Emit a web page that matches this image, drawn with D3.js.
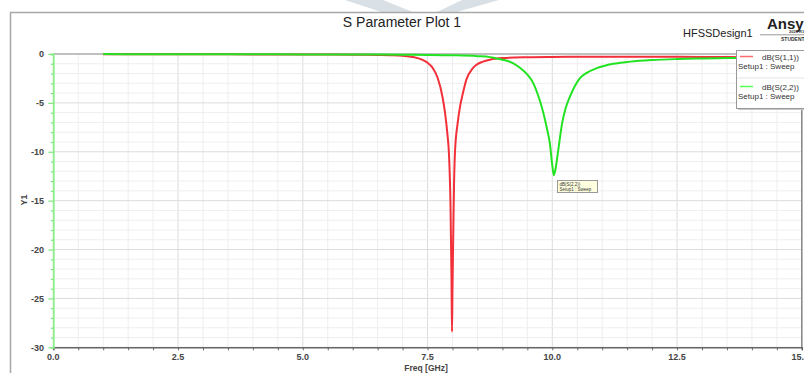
<!DOCTYPE html>
<html>
<head>
<meta charset="utf-8">
<script src="https://cdn.jsdelivr.net/npm/d3@7"></script>
<style>
  html, body { margin: 0; padding: 0; background: #fff; overflow: hidden; }
  svg { display: block; font-family: "Liberation Sans", Arial, sans-serif; }
</style>
</head>
<body>
<svg id="chart" width="804" height="373"></svg>
<script>
// ---- Data ----
const title = "S Parameter Plot 1";
const designName = "HFSSDesign1";
const xTicks = [0.0, 2.5, 5.0, 7.5, 10.0, 12.5, 15.0];
const xTickLabels = ["0.0", "2.5", "5.0", "7.5", "10.0", "12.5", "15."];
const yTicks = [0, -5, -10, -15, -20, -25, -30];
const seriesNames = ["dB(S(1,1))", "dB(S(2,2))"];
const setupName = "Setup1 : Sweep";

const s11Freq = [1.0, 2.0, 3.0, 4.0, 5.0, 6.0, 6.5, 6.8, 7.0, 7.2, 7.4, 7.5, 7.6, 7.7, 7.8, 7.85, 7.9, 7.93, 7.96, 7.98, 7.99, 8.0, 8.015, 8.03, 8.05, 8.1, 8.15, 8.2, 8.28, 8.4, 8.48, 8.6, 8.75, 9.0, 9.5, 10.0, 11.0, 12.0, 13.0, 14.0, 15.0];
const s11dB   = [-0.03, -0.03, -0.03, -0.04, -0.05, -0.07, -0.09, -0.12, -0.18, -0.3, -0.6, -0.9, -1.4, -2.4, -4.4, -6.0, -8.3, -10.3, -15.5, -23, -28.4, -24, -18.5, -13.5, -10.0, -7.2, -5.4, -4.2, -2.6, -1.5, -1.1, -0.8, -0.58, -0.42, -0.33, -0.3, -0.28, -0.28, -0.3, -0.32, -0.33];

const s22Freq = [1.0, 2.0, 3.0, 4.0, 5.0, 6.0, 7.0, 7.5, 8.0, 8.5, 8.75, 8.88, 9.0, 9.2, 9.35, 9.5, 9.62, 9.72, 9.82, 9.9, 9.95, 10.0, 10.03, 10.07, 10.12, 10.2, 10.27, 10.35, 10.45, 10.55, 10.7, 10.89, 11.22, 11.56, 12.0, 12.5, 13.0, 13.5, 14.0, 14.5, 15.0];
const s22dB   = [-0.01, -0.02, -0.02, -0.03, -0.04, -0.05, -0.07, -0.09, -0.13, -0.22, -0.32, -0.45, -0.58, -0.9, -1.4, -2.1, -3.0, -4.3, -6.0, -7.8, -9.1, -11.4, -12.4, -11.6, -9.8, -7.0, -5.5, -4.4, -3.3, -2.5, -1.9, -1.45, -1.0, -0.78, -0.62, -0.52, -0.46, -0.42, -0.39, -0.37, -0.36];

// ---- Layout ----
const svg = d3.select("#chart");
const W = 804, H = 373;
const plot = { left: 53.3, right: 801.8, top: 54, bottom: 347.3 };

const x = d3.scaleLinear().domain([0, 15]).range([plot.left, plot.right]);
const y = d3.scaleLinear().domain([0, -30]).range([plot.top, plot.bottom]);

// watermark shapes at the very top
svg.append("polygon").attr("points", "345,0 383,0 414,12.5 383,12.5").attr("fill", "#d8e0e5");
svg.append("polygon").attr("points", "462,0 499,0 455,12.5 436,12.5").attr("fill", "#d8e0e5");

// outer frame
svg.append("line").attr("x1", 10).attr("x2", W).attr("y1", 12.5).attr("y2", 12.5).attr("stroke", "#a8a8a8").attr("stroke-width", 1.5);
svg.append("line").attr("x1", 10.5).attr("x2", 10.5).attr("y1", 12).attr("y2", H).attr("stroke", "#a8a8a8").attr("stroke-width", 1.5);

// title
svg.append("text").attr("x", 402).attr("y", 27).attr("text-anchor", "middle")
  .attr("font-size", 14).attr("fill", "#222").text(title);
svg.append("text").attr("x", 683).attr("y", 37).attr("font-size", 11).attr("fill", "#222").text(designName);

// Ansys logo (clipped by window, as in the reference)
svg.append("text").attr("x", 767).attr("y", 28.5).attr("font-size", 15).attr("font-weight", "bold").attr("fill", "#222").text("Ansys");
svg.append("text").attr("x", 789).attr("y", 33).attr("font-size", 4).attr("font-weight", "bold").attr("fill", "#333").text("2023 R1");
svg.append("line").attr("x1", 760).attr("x2", 804).attr("y1", 34.8).attr("y2", 34.8).attr("stroke", "#999").attr("stroke-width", 1);
svg.append("text").attr("x", 781).attr("y", 40.5).attr("font-size", 5).attr("font-weight", "bold").attr("fill", "#333").text("STUDENT");

// grid
const g = svg.append("g");
const minorX = d3.range(0, 15.001, 0.5);
const minorY = d3.range(0, -30.001, -1);
g.selectAll("line.gx").data(minorX).join("line")
  .attr("x1", d => x(d)).attr("x2", d => x(d)).attr("y1", plot.top).attr("y2", plot.bottom)
  .attr("stroke", d => (Math.abs(d % 2.5) < 1e-6 ? "#dcdcdc" : "#eeeeee")).attr("stroke-width", 1);
g.selectAll("line.gy").data(minorY).join("line")
  .attr("x1", plot.left).attr("x2", plot.right).attr("y1", d => y(d)).attr("y2", d => y(d))
  .attr("stroke", d => (Math.abs(d % 5) < 1e-6 ? "#dcdcdc" : "#eeeeee")).attr("stroke-width", 1);

// plot border (top & right)
svg.append("line").attr("x1", plot.left).attr("x2", plot.right).attr("y1", plot.top).attr("y2", plot.top).attr("stroke", "#b0b0b0").attr("stroke-width", 1.5);
svg.append("line").attr("x1", plot.right).attr("x2", plot.right).attr("y1", plot.top).attr("y2", plot.bottom).attr("stroke", "#888").attr("stroke-width", 1.5);

// x axis
const xAxis = d3.axisBottom(x).tickValues(minorX).tickSize(3).tickFormat("");
const xa = svg.append("g").attr("transform", `translate(0,${plot.bottom})`).call(xAxis);
xa.select(".domain").attr("stroke", "#666").attr("stroke-width", 1.5);
xa.selectAll(".tick line").attr("stroke", "#666");
svg.selectAll("text.xt").data(xTicks).join("text")
  .attr("x", (d, i) => (i === xTicks.length - 1 ? W : x(d)))
  .attr("y", 360)
  .attr("text-anchor", (d, i) => (i === xTicks.length - 1 ? "end" : "middle"))
  .attr("font-size", 9).attr("font-weight", "bold").attr("fill", "#444")
  .text((d, i) => xTickLabels[i]);
svg.append("text").attr("x", 426).attr("y", 371).attr("text-anchor", "middle")
  .attr("font-size", 8.5).attr("font-weight", "bold").attr("fill", "#444").text("Freq [GHz]");

// y axis (green, as in reference)
const yAxis = d3.axisLeft(y).tickValues(minorY).tickSize(2.5).tickFormat("");
const ya = svg.append("g").attr("transform", `translate(${plot.left},0)`).call(yAxis);
ya.select(".domain").attr("stroke", "#8cf08c").attr("stroke-width", 1.8);
ya.selectAll(".tick line").attr("stroke", "#7ee87e").attr("stroke-width", 1.2)
  .attr("x2", d => (d % 5 === 0 ? -5 : -2.5));
svg.selectAll("text.yt").data(yTicks).join("text")
  .attr("x", 44).attr("y", d => y(d) + 3.2).attr("text-anchor", "end")
  .attr("font-size", 9).attr("font-weight", "bold").attr("fill", "#444").text(d => d);
svg.append("text").attr("transform", "translate(27,200) rotate(-90)").attr("text-anchor", "middle")
  .attr("font-size", 9).attr("font-weight", "bold").attr("fill", "#444").text("Y1");

// curves
const line = d3.line().x(d => x(d[0])).y(d => y(d[1])).curve(d3.curveMonotoneX);
const s11 = s11Freq.map((f, i) => [f, s11dB[i]]);
const s22 = s22Freq.map((f, i) => [f, s22dB[i]]);
svg.append("path").datum(s11).attr("d", line).attr("fill", "none").attr("stroke", "#f2303a").attr("stroke-width", 2);
svg.append("path").datum(s22).attr("d", line).attr("fill", "none").attr("stroke", "#22e322").attr("stroke-width", 2);

// marker label
const mk = svg.append("g").attr("transform", "translate(557.5,180.5)");
mk.append("rect").attr("width", 40).attr("height", 12).attr("fill", "#ffffe0").attr("stroke", "#999").attr("stroke-width", 1);
mk.append("text").attr("x", 2).attr("y", 5).attr("font-size", 4.5).attr("fill", "#333").text(seriesNames[1]);
mk.append("text").attr("x", 2).attr("y", 10.5).attr("font-size", 4.5).attr("fill", "#333").text(setupName);

// legend
const lg = svg.append("g").attr("transform", "translate(736,50)");
lg.append("rect").attr("x", 2).attr("y", 2).attr("width", 72).attr("height", 58).attr("fill", "#c8c8c8");
lg.append("rect").attr("x", 0.5).attr("y", 0.5).attr("width", 72).attr("height", 58).attr("fill", "#fff").attr("stroke", "#999");
lg.append("line").attr("x1", 1).attr("x2", 72).attr("y1", 28).attr("y2", 28).attr("stroke", "#e4e4e4");
const legColors = ["#ff6b6b", "#55ff55"];
seriesNames.forEach((name, i) => {
  const oy = i * 30;
  lg.append("line").attr("x1", 4).attr("x2", 17).attr("y1", 6.5 + oy).attr("y2", 6.5 + oy)
    .attr("stroke", legColors[i]).attr("stroke-width", 1.5);
  lg.append("text").attr("x", 26).attr("y", 9.5 + oy).attr("font-size", 8).attr("fill", "#333").text(name);
  lg.append("text").attr("x", 2).attr("y", 18.5 + oy).attr("font-size", 8).attr("fill", "#333").text(setupName);
});
</script>
</body>
</html>
